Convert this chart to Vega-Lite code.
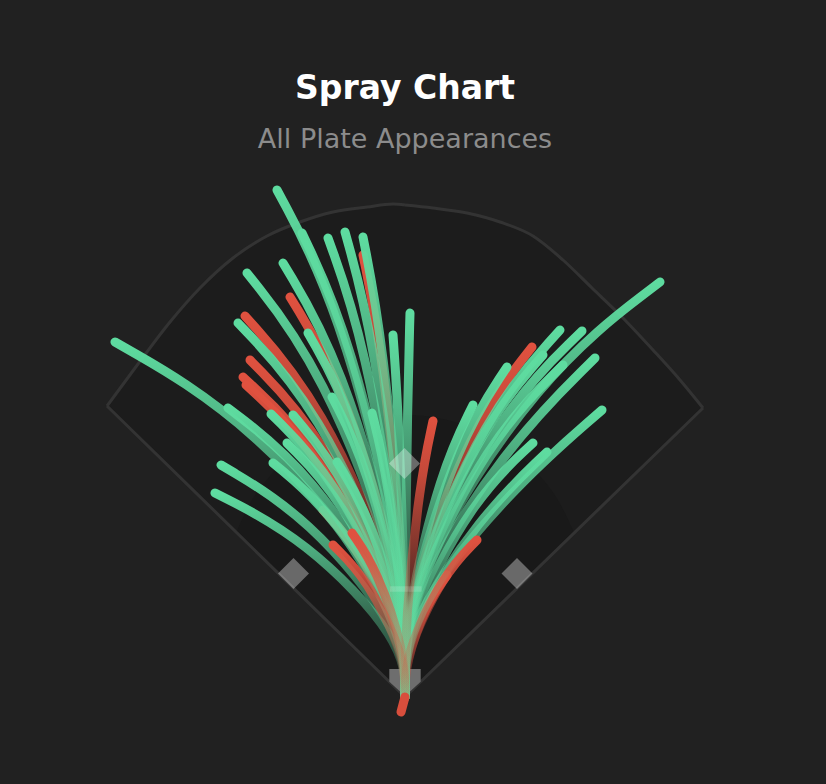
{
  "$schema": "https://vega.github.io/schema/vega-lite/v6.json",
  "description": "Spray chart of all plate appearances, batted-ball paths from home plate.",
  "width": 826,
  "height": 784,
  "autosize": {"type": "none"},
  "padding": 0,
  "background": "#212121",
  "config": {"view": {"stroke": null}},
  "title": {
    "text": "Spray Chart",
    "subtitle": "All Plate Appearances",
    "anchor": "middle",
    "font": "DejaVu Sans",
    "fontSize": 33,
    "fontWeight": "bold",
    "color": "#ffffff",
    "subtitleFont": "DejaVu Sans",
    "subtitleFontSize": 27,
    "subtitleColor": "#8c8c8c",
    "subtitlePadding": 21,
    "offset": -153,
    "dx": -8
  },
  "datasets": {
    "field": [
      {"side": "L", "x": -238.4, "y": 232.8, "y2": 232.8},
      {"side": "L", "x": -213.6, "y": 266.4, "y2": 208.6},
      {"side": "L", "x": -188, "y": 300, "y2": 183.6},
      {"side": "L", "x": -164, "y": 327.2, "y2": 160.2},
      {"side": "L", "x": -137.6, "y": 351.2, "y2": 134.4},
      {"side": "L", "x": -110.4, "y": 368.8, "y2": 107.8},
      {"side": "L", "x": -84, "y": 380, "y2": 82},
      {"side": "L", "x": -57.6, "y": 388, "y2": 56.2},
      {"side": "L", "x": -30.4, "y": 392, "y2": 29.7},
      {"side": "L", "x": -9.6, "y": 394.4, "y2": 9.4},
      {"side": "L", "x": 0, "y": 393.6, "y2": 0},
      {"side": "R", "x": 0, "y": 393.6, "y2": 0},
      {"side": "R", "x": 22.4, "y": 391.2, "y2": 21.8},
      {"side": "R", "x": 49.6, "y": 387.2, "y2": 48.1},
      {"side": "R", "x": 76, "y": 380, "y2": 73.7},
      {"side": "R", "x": 102.4, "y": 368.8, "y2": 99.3},
      {"side": "R", "x": 126.4, "y": 349.6, "y2": 122.6},
      {"side": "R", "x": 149.6, "y": 327.2, "y2": 145.1},
      {"side": "R", "x": 172, "y": 305.6, "y2": 166.8},
      {"side": "R", "x": 198.4, "y": 277.6, "y2": 192.4},
      {"side": "R", "x": 220, "y": 253.6, "y2": 213.4},
      {"side": "R", "x": 238.4, "y": 231.2, "y2": 231.2}
    ],
    "infield": [
      {"side": "L", "x": -135.2, "y": 131.4, "y2": 131.4},
      {"side": "L", "x": -124, "y": 154.8, "y2": 121.1},
      {"side": "L", "x": -108, "y": 176.8, "y2": 105.4},
      {"side": "L", "x": -92, "y": 192.4, "y2": 89.8},
      {"side": "L", "x": -76, "y": 204, "y2": 74.2},
      {"side": "L", "x": -56, "y": 214.4, "y2": 54.6},
      {"side": "L", "x": -36, "y": 221, "y2": 35.1},
      {"side": "L", "x": -16, "y": 224.8, "y2": 15.6},
      {"side": "L", "x": 0, "y": 225.6, "y2": 0},
      {"side": "R", "x": 0, "y": 225.6, "y2": 0},
      {"side": "R", "x": 16, "y": 224.8, "y2": 15.5},
      {"side": "R", "x": 36, "y": 221, "y2": 34.9},
      {"side": "R", "x": 56, "y": 214.4, "y2": 54.3},
      {"side": "R", "x": 76, "y": 204, "y2": 73.7},
      {"side": "R", "x": 92, "y": 192.4, "y2": 89.2},
      {"side": "R", "x": 108, "y": 176.8, "y2": 104.7},
      {"side": "R", "x": 124, "y": 154.8, "y2": 120.2},
      {"side": "R", "x": 135.2, "y": 131.5, "y2": 131.5}
    ],
    "foul": [
      {"x": -238.4, "y": 232.8},
      {"x": 0, "y": 0},
      {"x": 238.4, "y": 231.2}
    ],
    "landmarks": [
      {"name": "home", "x": 0, "y": 11.6},
      {"name": "rubber", "x": 0.6, "y": 86.4},
      {"name": "first", "x": 89.6, "y": 98.8},
      {"name": "second", "x": -0.4, "y": 186.8},
      {"name": "third", "x": -89.2, "y": 98.8}
    ],
    "hits": [
      {"id": "R7", "result": "out", "seq": 0, "x": 0, "y": 0}, {"id": "R7", "result": "out", "seq": 1, "x": 0, "y": 40.4}, {"id": "R7", "result": "out", "seq": 2, "x": -34.8, "y": 116.7}, {"id": "R7", "result": "out", "seq": 3, "x": -65.6, "y": 149.6},
      {"id": "R13", "result": "out", "seq": 0, "x": 0, "y": 0}, {"id": "R13", "result": "out", "seq": 1, "x": 0, "y": 26.4}, {"id": "R13", "result": "out", "seq": 2, "x": 17.8, "y": 76.1}, {"id": "R13", "result": "out", "seq": 3, "x": 33.6, "y": 97.6},
      {"id": "R1", "result": "out", "seq": 0, "x": 0, "y": 0}, {"id": "R1", "result": "out", "seq": 1, "x": 0, "y": 95.5}, {"id": "R1", "result": "out", "seq": 2, "x": -17.8, "y": 275.8}, {"id": "R1", "result": "out", "seq": 3, "x": -33.6, "y": 353.6},
      {"id": "R11", "result": "out", "seq": 0, "x": 0, "y": 0}, {"id": "R11", "result": "out", "seq": 1, "x": 0, "y": 75.6}, {"id": "R11", "result": "out", "seq": 2, "x": 53.8, "y": 218.4}, {"id": "R11", "result": "out", "seq": 3, "x": 101.6, "y": 280},
      {"id": "R2", "result": "out", "seq": 0, "x": 0, "y": 0}, {"id": "R2", "result": "out", "seq": 1, "x": 0, "y": 86.4}, {"id": "R2", "result": "out", "seq": 2, "x": -48.8, "y": 249.6}, {"id": "R2", "result": "out", "seq": 3, "x": -92, "y": 320},
      {"id": "R3", "result": "out", "seq": 0, "x": 0, "y": 0}, {"id": "R3", "result": "out", "seq": 1, "x": 0, "y": 82.3}, {"id": "R3", "result": "out", "seq": 2, "x": -67.8, "y": 237.7}, {"id": "R3", "result": "out", "seq": 3, "x": -128, "y": 304.8},
      {"id": "R4", "result": "out", "seq": 0, "x": 0, "y": 0}, {"id": "R4", "result": "out", "seq": 1, "x": 0, "y": 72.8}, {"id": "R4", "result": "out", "seq": 2, "x": -65.7, "y": 210.3}, {"id": "R4", "result": "out", "seq": 3, "x": -124, "y": 269.6},
      {"id": "R5", "result": "out", "seq": 0, "x": 0, "y": 0}, {"id": "R5", "result": "out", "seq": 1, "x": 0, "y": 69.1}, {"id": "R5", "result": "out", "seq": 2, "x": -68.7, "y": 199.7}, {"id": "R5", "result": "out", "seq": 3, "x": -129.6, "y": 256},
      {"id": "R6", "result": "out", "seq": 0, "x": 0, "y": 0}, {"id": "R6", "result": "out", "seq": 1, "x": 0, "y": 67.4}, {"id": "R6", "result": "out", "seq": 2, "x": -67.4, "y": 194.7}, {"id": "R6", "result": "out", "seq": 3, "x": -127.2, "y": 249.6},
      {"id": "G1", "result": "hit", "seq": 0, "x": 0, "y": 0}, {"id": "G1", "result": "hit", "seq": 1, "x": 0, "y": 109.5}, {"id": "G1", "result": "hit", "seq": 2, "x": -54.3, "y": 316.4}, {"id": "G1", "result": "hit", "seq": 3, "x": -102.4, "y": 405.6},
      {"id": "G2", "result": "hit", "seq": 0, "x": 0, "y": 0}, {"id": "G2", "result": "hit", "seq": 1, "x": 0, "y": 100.2}, {"id": "G2", "result": "hit", "seq": 2, "x": -43.7, "y": 289.5}, {"id": "G2", "result": "hit", "seq": 3, "x": -82.4, "y": 371.2},
      {"id": "G3", "result": "hit", "seq": 0, "x": 0, "y": 0}, {"id": "G3", "result": "hit", "seq": 1, "x": 0, "y": 99.1}, {"id": "G3", "result": "hit", "seq": 2, "x": -32.6, "y": 286.4}, {"id": "G3", "result": "hit", "seq": 3, "x": -61.6, "y": 367.2},
      {"id": "G4", "result": "hit", "seq": 0, "x": 0, "y": 0}, {"id": "G4", "result": "hit", "seq": 1, "x": 0, "y": 100.4}, {"id": "G4", "result": "hit", "seq": 2, "x": -25.4, "y": 290.2}, {"id": "G4", "result": "hit", "seq": 3, "x": -48, "y": 372},
      {"id": "G5", "result": "hit", "seq": 0, "x": 0, "y": 0}, {"id": "G5", "result": "hit", "seq": 1, "x": 0, "y": 99.4}, {"id": "G5", "result": "hit", "seq": 2, "x": -17.8, "y": 287}, {"id": "G5", "result": "hit", "seq": 3, "x": -33.6, "y": 368},
      {"id": "G6", "result": "hit", "seq": 0, "x": 0, "y": 0}, {"id": "G6", "result": "hit", "seq": 1, "x": 0, "y": 91.6}, {"id": "G6", "result": "hit", "seq": 2, "x": -67, "y": 264.6}, {"id": "G6", "result": "hit", "seq": 3, "x": -126.4, "y": 339.2},
      {"id": "G7", "result": "hit", "seq": 0, "x": 0, "y": 0}, {"id": "G7", "result": "hit", "seq": 1, "x": 0, "y": 93.7}, {"id": "G7", "result": "hit", "seq": 2, "x": -51.7, "y": 270.8}, {"id": "G7", "result": "hit", "seq": 3, "x": -97.6, "y": 347.2},
      {"id": "G8", "result": "hit", "seq": 0, "x": 0, "y": 0}, {"id": "G8", "result": "hit", "seq": 1, "x": 0, "y": 80.8}, {"id": "G8", "result": "hit", "seq": 2, "x": -70.8, "y": 233.4}, {"id": "G8", "result": "hit", "seq": 3, "x": -133.6, "y": 299.2},
      {"id": "G9", "result": "hit", "seq": 0, "x": 0, "y": 0}, {"id": "G9", "result": "hit", "seq": 1, "x": 0, "y": 78.6}, {"id": "G9", "result": "hit", "seq": 2, "x": -41.1, "y": 227.1}, {"id": "G9", "result": "hit", "seq": 3, "x": -77.6, "y": 291.2},
      {"id": "G10", "result": "hit", "seq": 0, "x": 0, "y": 0}, {"id": "G10", "result": "hit", "seq": 1, "x": 0, "y": 78.2}, {"id": "G10", "result": "hit", "seq": 2, "x": -5.1, "y": 225.9}, {"id": "G10", "result": "hit", "seq": 3, "x": -9.6, "y": 289.6},
      {"id": "G11", "result": "hit", "seq": 0, "x": 0, "y": 0}, {"id": "G11", "result": "hit", "seq": 1, "x": 0, "y": 82.9}, {"id": "G11", "result": "hit", "seq": 2, "x": 2.1, "y": 239.6}, {"id": "G11", "result": "hit", "seq": 3, "x": 4, "y": 307.2},
      {"id": "G12", "result": "hit", "seq": 0, "x": 0, "y": 0}, {"id": "G12", "result": "hit", "seq": 1, "x": 0, "y": 76.7}, {"id": "G12", "result": "hit", "seq": 2, "x": -123, "y": 221.5}, {"id": "G12", "result": "hit", "seq": 3, "x": -232, "y": 284},
      {"id": "G13", "result": "hit", "seq": 0, "x": 0, "y": 0}, {"id": "G13", "result": "hit", "seq": 1, "x": 0, "y": 62.4}, {"id": "G13", "result": "hit", "seq": 2, "x": -75, "y": 180.3}, {"id": "G13", "result": "hit", "seq": 3, "x": -141.6, "y": 231.2},
      {"id": "G14", "result": "hit", "seq": 0, "x": 0, "y": 0}, {"id": "G14", "result": "hit", "seq": 1, "x": 0, "y": 61.1}, {"id": "G14", "result": "hit", "seq": 2, "x": -56.8, "y": 176.6}, {"id": "G14", "result": "hit", "seq": 3, "x": -107.2, "y": 226.4},
      {"id": "G15", "result": "hit", "seq": 0, "x": 0, "y": 0}, {"id": "G15", "result": "hit", "seq": 1, "x": 0, "y": 60.9}, {"id": "G15", "result": "hit", "seq": 2, "x": -47.5, "y": 176}, {"id": "G15", "result": "hit", "seq": 3, "x": -89.6, "y": 225.6},
      {"id": "G16", "result": "hit", "seq": 0, "x": 0, "y": 0}, {"id": "G16", "result": "hit", "seq": 1, "x": 0, "y": 64.8}, {"id": "G16", "result": "hit", "seq": 2, "x": -31, "y": 187.2}, {"id": "G16", "result": "hit", "seq": 3, "x": -58.4, "y": 240},
      {"id": "G17", "result": "hit", "seq": 0, "x": 0, "y": 0}, {"id": "G17", "result": "hit", "seq": 1, "x": 0, "y": 61.3}, {"id": "G17", "result": "hit", "seq": 2, "x": -14, "y": 177.2}, {"id": "G17", "result": "hit", "seq": 3, "x": -26.4, "y": 227.2},
      {"id": "G18", "result": "hit", "seq": 0, "x": 0, "y": 0}, {"id": "G18", "result": "hit", "seq": 1, "x": 0, "y": 50.1}, {"id": "G18", "result": "hit", "seq": 2, "x": -78, "y": 144.8}, {"id": "G18", "result": "hit", "seq": 3, "x": -147.2, "y": 185.6},
      {"id": "G19", "result": "hit", "seq": 0, "x": 0, "y": 0}, {"id": "G19", "result": "hit", "seq": 1, "x": 0, "y": 44.1}, {"id": "G19", "result": "hit", "seq": 2, "x": -80.6, "y": 127.3}, {"id": "G19", "result": "hit", "seq": 3, "x": -152, "y": 163.2},
      {"id": "G20", "result": "hit", "seq": 0, "x": 0, "y": 0}, {"id": "G20", "result": "hit", "seq": 1, "x": 0, "y": 50.5}, {"id": "G20", "result": "hit", "seq": 2, "x": -56, "y": 146}, {"id": "G20", "result": "hit", "seq": 3, "x": -105.6, "y": 187.2},
      {"id": "G21", "result": "hit", "seq": 0, "x": 0, "y": 0}, {"id": "G21", "result": "hit", "seq": 1, "x": 0, "y": 54.9}, {"id": "G21", "result": "hit", "seq": 2, "x": -50, "y": 158.5}, {"id": "G21", "result": "hit", "seq": 3, "x": -94.4, "y": 203.2},
      {"id": "G22", "result": "hit", "seq": 0, "x": 0, "y": 0}, {"id": "G22", "result": "hit", "seq": 1, "x": 0, "y": 50.8}, {"id": "G22", "result": "hit", "seq": 2, "x": -28.8, "y": 146.6}, {"id": "G22", "result": "hit", "seq": 3, "x": -54.4, "y": 188},
      {"id": "G23", "result": "hit", "seq": 0, "x": 0, "y": 0}, {"id": "G23", "result": "hit", "seq": 1, "x": 0, "y": 89.6}, {"id": "G23", "result": "hit", "seq": 2, "x": 108.1, "y": 259}, {"id": "G23", "result": "hit", "seq": 3, "x": 204, "y": 332},
      {"id": "G24", "result": "hit", "seq": 0, "x": 0, "y": 0}, {"id": "G24", "result": "hit", "seq": 1, "x": 0, "y": 79.3}, {"id": "G24", "result": "hit", "seq": 2, "x": 65.7, "y": 229}, {"id": "G24", "result": "hit", "seq": 3, "x": 124, "y": 293.6},
      {"id": "G25", "result": "hit", "seq": 0, "x": 0, "y": 0}, {"id": "G25", "result": "hit", "seq": 1, "x": 0, "y": 79.1}, {"id": "G25", "result": "hit", "seq": 2, "x": 75, "y": 228.4}, {"id": "G25", "result": "hit", "seq": 3, "x": 141.6, "y": 292.8},
      {"id": "G26", "result": "hit", "seq": 0, "x": 0, "y": 0}, {"id": "G26", "result": "hit", "seq": 1, "x": 0, "y": 71.3}, {"id": "G26", "result": "hit", "seq": 2, "x": 43.2, "y": 205.9}, {"id": "G26", "result": "hit", "seq": 3, "x": 81.6, "y": 264},
      {"id": "G27", "result": "hit", "seq": 0, "x": 0, "y": 0}, {"id": "G27", "result": "hit", "seq": 1, "x": 0, "y": 73.9}, {"id": "G27", "result": "hit", "seq": 2, "x": 58.5, "y": 213.4}, {"id": "G27", "result": "hit", "seq": 3, "x": 110.4, "y": 273.6},
      {"id": "G28", "result": "hit", "seq": 0, "x": 0, "y": 0}, {"id": "G28", "result": "hit", "seq": 1, "x": 0, "y": 71.7}, {"id": "G28", "result": "hit", "seq": 2, "x": 67, "y": 207.2}, {"id": "G28", "result": "hit", "seq": 3, "x": 126.4, "y": 265.6},
      {"id": "G29", "result": "hit", "seq": 0, "x": 0, "y": 0}, {"id": "G29", "result": "hit", "seq": 1, "x": 0, "y": 73.2}, {"id": "G29", "result": "hit", "seq": 2, "x": 80.6, "y": 200.7}, {"id": "G29", "result": "hit", "seq": 3, "x": 152, "y": 271.2},
      {"id": "G30", "result": "hit", "seq": 0, "x": 0, "y": 0}, {"id": "G30", "result": "hit", "seq": 1, "x": 0, "y": 63.1}, {"id": "G30", "result": "hit", "seq": 2, "x": 28.8, "y": 182.2}, {"id": "G30", "result": "hit", "seq": 3, "x": 54.4, "y": 233.6},
      {"id": "G31", "result": "hit", "seq": 0, "x": 0, "y": 0}, {"id": "G31", "result": "hit", "seq": 1, "x": 0, "y": 62}, {"id": "G31", "result": "hit", "seq": 2, "x": 83.5, "y": 165.3}, {"id": "G31", "result": "hit", "seq": 3, "x": 157.6, "y": 229.6},
      {"id": "G32", "result": "hit", "seq": 0, "x": 0, "y": 0}, {"id": "G32", "result": "hit", "seq": 1, "x": 0, "y": 54.9}, {"id": "G32", "result": "hit", "seq": 2, "x": 54.3, "y": 158.5}, {"id": "G32", "result": "hit", "seq": 3, "x": 102.4, "y": 203.2},
      {"id": "G33", "result": "hit", "seq": 0, "x": 0, "y": 0}, {"id": "G33", "result": "hit", "seq": 1, "x": 0, "y": 52.9}, {"id": "G33", "result": "hit", "seq": 2, "x": 60.2, "y": 145}, {"id": "G33", "result": "hit", "seq": 3, "x": 113.6, "y": 196},
      {"id": "R8", "result": "out", "seq": 0, "x": 0, "y": 0}, {"id": "R8", "result": "out", "seq": 1, "x": 0, "y": 32.8}, {"id": "R8", "result": "out", "seq": 2, "x": -30.5, "y": 94.8}, {"id": "R8", "result": "out", "seq": 3, "x": -57.6, "y": 121.6},
      {"id": "R9", "result": "out", "seq": 0, "x": 0, "y": 0}, {"id": "R9", "result": "out", "seq": 1, "x": 0, "y": 35.4}, {"id": "R9", "result": "out", "seq": 2, "x": -22.5, "y": 102.3}, {"id": "R9", "result": "out", "seq": 3, "x": -42.4, "y": 131.2},
      {"id": "R10", "result": "out", "seq": 0, "x": 0, "y": 0}, {"id": "R10", "result": "out", "seq": 1, "x": 0, "y": 59.6}, {"id": "R10", "result": "out", "seq": 2, "x": 11.9, "y": 172.2}, {"id": "R10", "result": "out", "seq": 3, "x": 22.4, "y": 220.8},
      {"id": "R12", "result": "out", "seq": 0, "x": 0, "y": 0}, {"id": "R12", "result": "out", "seq": 1, "x": 0, "y": 33.9}, {"id": "R12", "result": "out", "seq": 2, "x": 30.5, "y": 98}, {"id": "R12", "result": "out", "seq": 3, "x": 57.6, "y": 125.6},
      {"id": "R14", "result": "out", "seq": 0, "x": 0, "y": 0}, {"id": "R14", "result": "out", "seq": 1, "x": -3.2, "y": -12}
    ]
  },
  "encoding": {
    "x": {"field": "x", "type": "quantitative", "scale": {"domain": [-324, 336.8], "nice": false, "zero": false}, "axis": null},
    "y": {"field": "y", "type": "quantitative", "scale": {"domain": [-69.6, 557.6], "nice": false, "zero": false}, "axis": null}
  },
  "layer": [
    {
      "data": {"name": "field"},
      "mark": {"type": "area", "interpolate": "monotone", "fill": "#1c1c1c", "stroke": null},
      "encoding": {"y2": {"field": "y2"}, "detail": {"field": "side"}}
    },
    {
      "data": {"name": "infield"},
      "mark": {"type": "area", "interpolate": "monotone", "fill": "#191919", "stroke": null},
      "encoding": {"y2": {"field": "y2"}, "detail": {"field": "side"}}
    },
    {
      "data": {"name": "field"},
      "mark": {"type": "line", "interpolate": "monotone", "stroke": "#333333", "strokeWidth": 3},
      "encoding": {"detail": {"field": "side"}}
    },
    {
      "data": {"name": "foul"},
      "mark": {"type": "line", "stroke": "#333333", "strokeWidth": 3, "strokeJoin": "miter"},
      "encoding": {}
    },
    {
      "data": {"name": "landmarks"},
      "transform": [{"filter": "datum.name === 'home'"}],
      "mark": {"type": "point", "shape": "M-1,-0.86L1,-0.86L1,-0.05L0,0.86L-1,-0.05Z", "size": 986, "filled": true, "fill": "#6e6e6e", "opacity": 1, "strokeWidth": 0}
    },
    {
      "data": {"name": "hits"},
      "transform": [{"filter": {"field": "id", "oneOf": ["R7", "R13", "R1", "R11", "R2", "R3", "R4", "R5", "R6"]}}],
      "mark": {
        "type": "line", "interpolate": "basis", "strokeWidth": 9, "strokeCap": "round",
        "stroke": {"gradient": "linear", "x1": 0, "y1": 1, "x2": 0, "y2": 0,
          "stops": [
            {"offset": 0, "color": "rgba(224,81,63,0.08)"},
            {"offset": 0.45, "color": "rgba(224,81,63,0.4)"},
            {"offset": 0.8, "color": "rgba(224,81,63,0.85)"},
            {"offset": 1, "color": "rgba(224,81,63,1)"}
          ]}
      },
      "encoding": {"detail": {"field": "id"}, "order": {"field": "seq", "type": "quantitative"}}
    },
    {
      "data": {"name": "hits"},
      "transform": [{"filter": "datum.result === 'hit'"}],
      "mark": {
        "type": "line", "interpolate": "basis", "strokeWidth": 9, "strokeCap": "round",
        "stroke": {"gradient": "linear", "x1": 0, "y1": 1, "x2": 0, "y2": 0,
          "stops": [
            {"offset": 0, "color": "rgba(94,220,160,0.18)"},
            {"offset": 0.4, "color": "rgba(94,220,160,0.42)"},
            {"offset": 0.75, "color": "rgba(94,220,160,0.78)"},
            {"offset": 1, "color": "rgba(94,220,160,1)"}
          ]}
      },
      "encoding": {"detail": {"field": "id"}, "order": {"field": "seq", "type": "quantitative"}}
    },
    {
      "data": {"name": "hits"},
      "transform": [{"filter": {"field": "id", "oneOf": ["R8", "R9", "R10", "R12"]}}],
      "mark": {
        "type": "line", "interpolate": "basis", "strokeWidth": 9, "strokeCap": "round",
        "stroke": {"gradient": "linear", "x1": 0, "y1": 1, "x2": 0, "y2": 0,
          "stops": [
            {"offset": 0, "color": "rgba(224,81,63,0.08)"},
            {"offset": 0.45, "color": "rgba(224,81,63,0.4)"},
            {"offset": 0.8, "color": "rgba(224,81,63,0.85)"},
            {"offset": 1, "color": "rgba(224,81,63,1)"}
          ]}
      },
      "encoding": {"detail": {"field": "id"}, "order": {"field": "seq", "type": "quantitative"}}
    },
    {
      "data": {"name": "hits"},
      "transform": [{"filter": "datum.id === 'R14'"}],
      "mark": {"type": "line", "strokeWidth": 9, "strokeCap": "round", "stroke": "#d84e3c"},
      "encoding": {"order": {"field": "seq", "type": "quantitative"}}
    },
    {
      "data": {"name": "landmarks"},
      "transform": [{"filter": "datum.name === 'first' || datum.name === 'second' || datum.name === 'third'"}],
      "mark": {"type": "point", "shape": "square", "angle": 45, "size": 480, "filled": true, "fill": "#ffffff", "opacity": 0.35, "strokeWidth": 0}
    },
    {
      "data": {"name": "landmarks"},
      "transform": [{"filter": "datum.name === 'rubber'"}],
      "mark": {"type": "point", "shape": "M-1,-0.18L1,-0.18L1,0.18L-1,0.18Z", "size": 1005, "filled": true, "fill": "#ffffff", "opacity": 0.16, "strokeWidth": 0}
    }
  ]
}
